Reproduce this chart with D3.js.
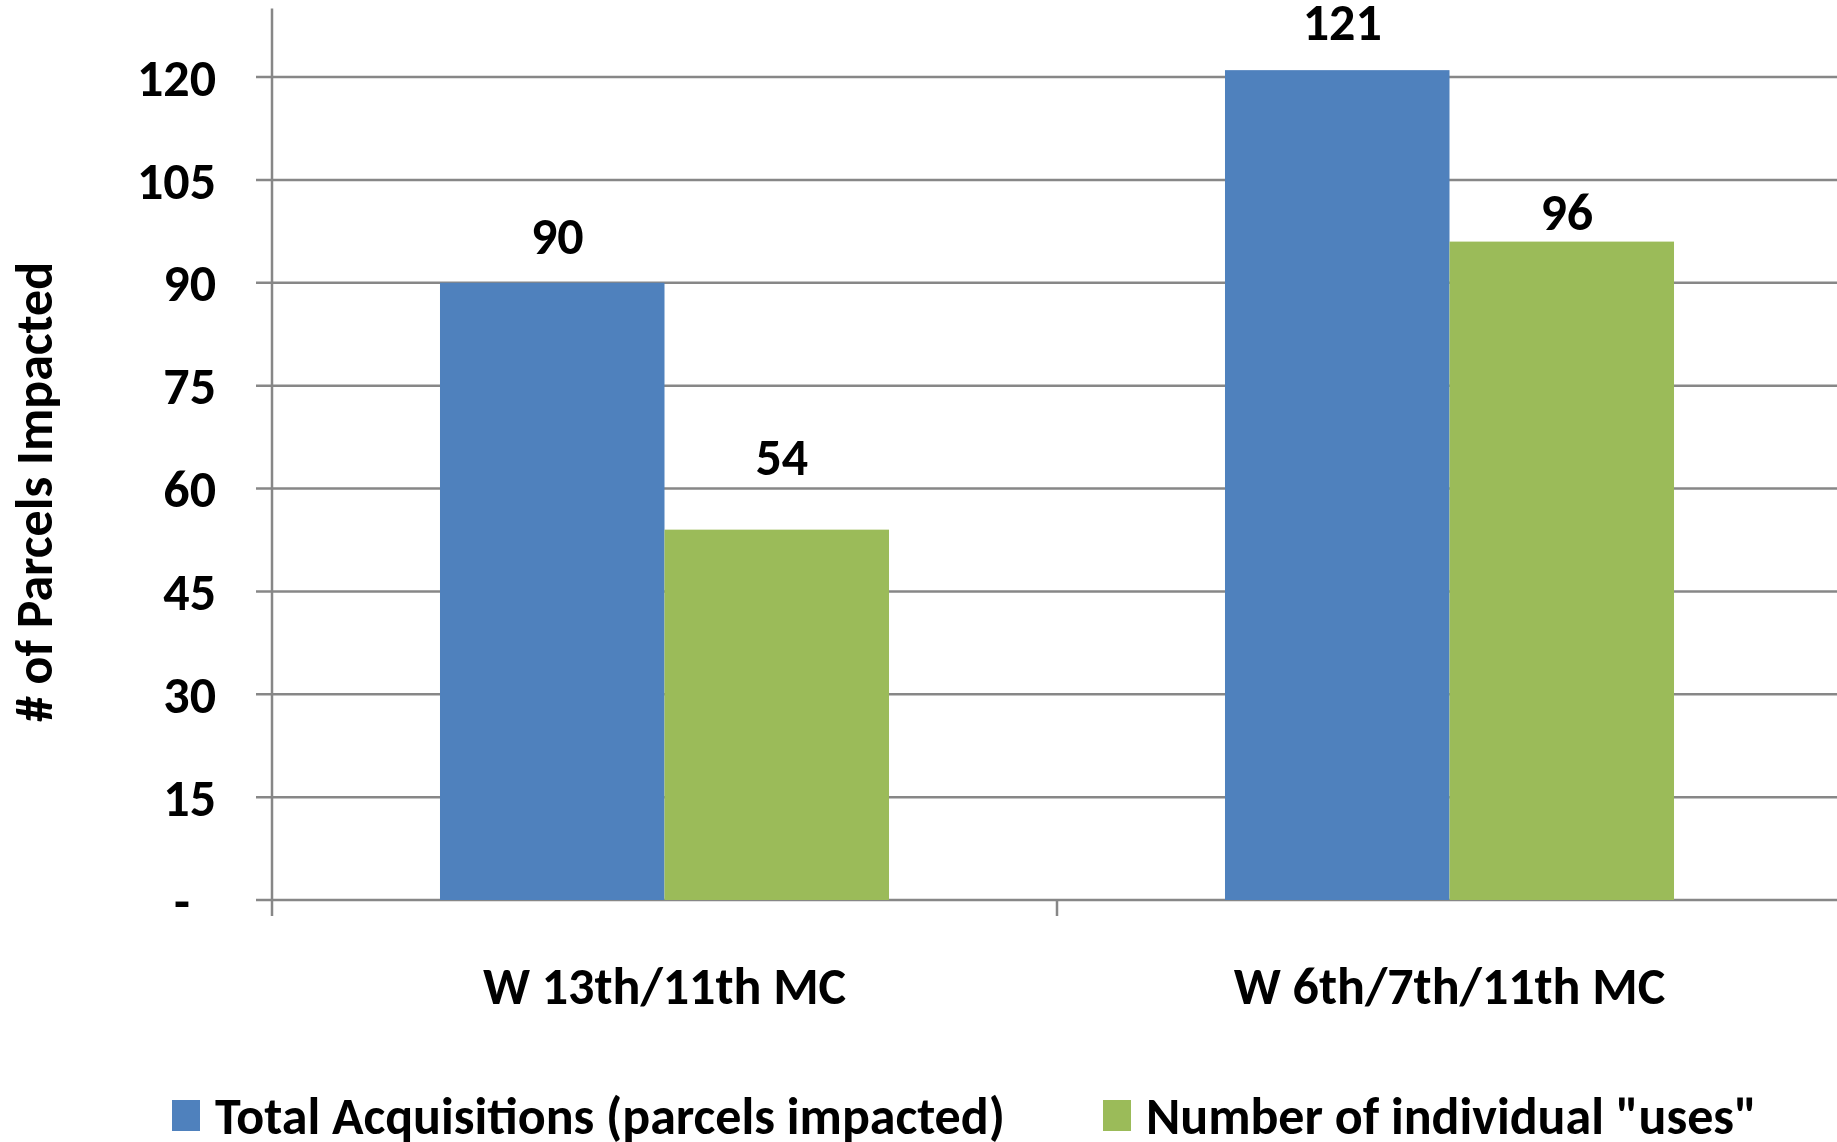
<!DOCTYPE HTML>
<html>
<head>
  <meta charset="utf-8">
</head>
<body style="margin:0">
<style>
text {
  font-family: Carlito, Lato, "Open Sans", sans-serif;
  font-weight: bold;
  font-size: 52px;
  fill: #000;
}
.grid line {
  stroke: #878787;
  stroke-width: 2.5;
}
</style>
<svg width="1837" height="1142"></svg>
<script src="https://d3js.org/d3.v7.min.js"></script>
<script>
var categories = ["W 13th/11th MC", "W 6th/7th/11th MC"];
var seriesNames = ["Total Acquisitions (parcels impacted)", "Number of individual \"uses\""];
var totalAcquisitions = [90, 121];
var individualUses = [54, 96];
var yTicks = [0, 15, 30, 45, 60, 75, 90, 105, 120];
var colors = ["#4F81BD", "#9BBB59"];
// labels were hand-placed above the bars in the original
var labelLift = [[29, 55], [30, 12]];

var svg = d3.select("svg"),
    width = +svg.attr("width"),
    height = +svg.attr("height");

var left = 272, right = 1842, zeroY = 900;

var x0 = d3.scaleBand()
    .domain(categories)
    .range([left, right])
    .padding(0);

var x1 = d3.scaleBand()
    .domain(seriesNames)
    .range([x0.bandwidth() * 0.214, x0.bandwidth() * 0.786]);

var y = d3.scaleLinear()
    .domain([0, 120])
    .range([zeroY, 77]);

var rows = categories.map(function(c, i) {
  return {cat: c, values: [
    {key: seriesNames[0], value: totalAcquisitions[i], color: colors[0], lift: labelLift[i][0]},
    {key: seriesNames[1], value: individualUses[i], color: colors[1], lift: labelLift[i][1]}
  ]};
});

// gridlines
var grid = svg.append("g").attr("class", "grid");
grid.selectAll("line")
  .data(yTicks)
  .enter().append("line")
    .attr("x1", left - 16)
    .attr("x2", right)
    .attr("y1", function(d) { return y(d); })
    .attr("y2", function(d) { return y(d); });

// y axis line + category ticks
grid.append("line")
    .attr("x1", left).attr("x2", left)
    .attr("y1", y(130)).attr("y2", zeroY + 16);
grid.selectAll(".ctick")
  .data(categories.slice(1))
  .enter().append("line")
    .attr("class", "ctick")
    .attr("x1", function(d) { return x0(d); })
    .attr("x2", function(d) { return x0(d); })
    .attr("y1", zeroY)
    .attr("y2", zeroY + 16);

// tick labels
svg.append("g")
  .selectAll("text")
  .data(yTicks)
  .enter().append("text")
    .attr("x", function(d) { return d === 0 ? 190 : 216; })
    .attr("y", function(d) { return y(d); })
    .attr("dy", "0.36em")
    .attr("text-anchor", "end")
    .text(function(d) { return d === 0 ? "-" : d; });

// bars
var group = svg.append("g")
  .selectAll("g")
  .data(rows)
  .enter().append("g")
    .attr("transform", function(d) { return "translate(" + x0(d.cat) + ",0)"; });

group.selectAll("rect")
  .data(function(d) { return d.values; })
  .enter().append("rect")
    .attr("x", function(d) { return x1(d.key); })
    .attr("y", function(d) { return y(d.value); })
    .attr("width", x1.bandwidth())
    .attr("height", function(d) { return zeroY - y(d.value); })
    .attr("fill", function(d) { return d.color; });

group.selectAll(".val")
  .data(function(d) { return d.values; })
  .enter().append("text")
    .attr("class", "val")
    .attr("x", function(d) { return x1(d.key) + x1.bandwidth() / 2 + 5; })
    .attr("y", function(d) { return y(d.value) - d.lift; })
    .attr("text-anchor", "middle")
    .text(function(d) { return d.value; });

// category labels
svg.append("g")
  .selectAll("text")
  .data(categories)
  .enter().append("text")
    .attr("x", function(d) { return x0(d) + x0.bandwidth() / 2; })
    .attr("y", 1004)
    .attr("text-anchor", "middle")
    .text(function(d) { return d; });

// y title
svg.append("text")
    .attr("transform", "translate(52,492) rotate(-90)")
    .attr("text-anchor", "middle")
    .text("# of Parcels Impacted");

// legend
var legendX = [172, 1103];
var legend = svg.append("g")
  .selectAll("g")
  .data(seriesNames)
  .enter().append("g")
    .attr("transform", function(d, i) { return "translate(" + legendX[i] + ",1100)"; });

legend.append("rect")
    .attr("width", 28)
    .attr("height", 31)
    .attr("fill", function(d, i) { return colors[i]; });

legend.append("text")
    .attr("x", 43)
    .attr("y", 34)
    .text(function(d) { return d; });

</script>
</body>
</html>
